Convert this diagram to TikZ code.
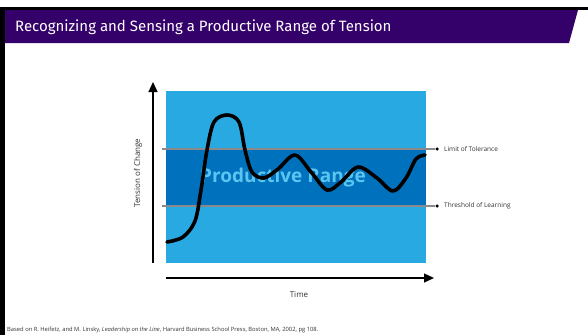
\documentclass[tikz,border=0pt]{standalone}
\usepackage{fontspec}
\setmainfont{Open Sans}
\newfontfamily\titlefont{Fira Sans}
\usetikzlibrary{arrows.meta}
\definecolor{bannerpurple}{HTML}{34006A}
\definecolor{lightblue}{HTML}{29A9E1}
\definecolor{darkblue}{HTML}{0071BC}
\definecolor{rangetext}{HTML}{5BC5F2}
\definecolor{limitgray}{HTML}{8A8A8A}
\tikzset{
  axis/.style={line width=1.3pt,-{Triangle[length=10pt,width=9pt]}},
  limitline/.style={limitgray,line width=2pt},
  enddot/.style={circle,fill=black,inner sep=0pt,minimum size=3.5pt},
  smalllabel/.style={font=\fontsize{6.5}{7}\selectfont,text=black!80,anchor=west,inner sep=0pt},
  axislabel/.style={font=\fontsize{8}{9}\selectfont,text=black!80,inner sep=0pt},
}
\begin{document}
\begin{tikzpicture}[x=1pt,y=-1pt]
\useasboundingbox (0,0) rectangle (588,335);
\fill[white] (0,0) rectangle (588,335);
% frame
\fill[black] (0,7) rectangle (588,10);
\fill[black] (0,7) rectangle (5,335);
\fill[bannerpurple] (5,10) -- (578,10) -- (569,43) -- (5,43) -- cycle;
\node[anchor=west,text=white,inner sep=0pt,font=\titlefont\fontsize{15}{17}\selectfont] (title) at (15,27) {Recognizing and Sensing a Productive Range of Tension};
% chart
\fill[lightblue] (166,91) rectangle (426,263);
\fill[darkblue] (166,149) rectangle (426,206);
\node[font=\bfseries\fontsize{19}{21}\selectfont,text=rangetext,inner sep=0pt] (range) at (283,178) {Productive Range};
\node[enddot] (lim) at (437,149) {};
\node[enddot] (thr) at (437,206) {};
\coordinate (limstart) at (162,149);
\coordinate (thrstart) at (162,206);
\draw[limitline] (limstart) -- (lim);
\draw[limitline] (thrstart) -- (thr);
\node[smalllabel] (limlabel) at (444,149) {Limit of Tolerance};
\node[smalllabel] (thrlabel) at (444,206) {Threshold of Learning};
% curve
\draw[line width=3.6pt,line cap=round,line join=round] plot[smooth,tension=0.55] coordinates {
 (167,242) (183,237) (195,221) (201,190) (207,150) (214,122) (227,115) (239,122)
 (245,150) (252,172) (264,178) (278,169) (295,155) (311,172) (327,190) (341,182)
 (358,167) (377,178) (393,191) (406,178) (416,159) (425,155)};
% axes
\coordinate (yb) at (153,263);
\coordinate (yt) at (153,82);
\draw[axis] (yb) -- (yt);
\coordinate (xl) at (166,278);
\coordinate (xr) at (434,278);
\draw[axis] (xl) -- (xr);
\node[axislabel,rotate=90] (ylabel) at (138,173) {Tension of Change};
\node[axislabel] (xlabel) at (299,295) {Time};
% footnote
\node[anchor=west,inner sep=0pt,font=\fontsize{5.8}{6}\selectfont,text=black!80] (foot) at (7,330) {Based on R. Heifetz, and M. Linsky, \textit{Leadership on the Line}, Harvard Business School Press, Boston, MA, 2002, pg 108.};
\end{tikzpicture}
\end{document}
